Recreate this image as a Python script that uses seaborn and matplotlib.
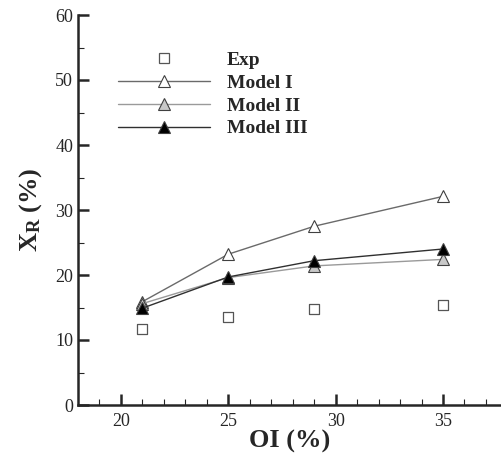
import matplotlib
matplotlib.use("Agg")
import matplotlib.pyplot as plt
from matplotlib.lines import Line2D
import seaborn as sns
import pandas as pd

# data
oi = [21, 25, 29, 35]
exp_xr = [11.7, 13.6, 14.8, 15.4]
model1_xr = [15.9, 23.2, 27.5, 32.1]
model2_xr = [15.6, 19.6, 21.4, 22.4]
model3_xr = [14.9, 19.7, 22.2, 24.0]

sns.set_style("ticks")
plt.rcParams["font.family"] = ["Liberation Serif", "DejaVu Serif"]
plt.rcParams["mathtext.fontset"] = "custom"
plt.rcParams["mathtext.rm"] = "Liberation Serif"
plt.rcParams["mathtext.bf"] = "Liberation Serif:bold"

fig = plt.figure(figsize=(5.01, 4.54), dpi=100)
ax = fig.add_axes([78 / 501, 1 - 405 / 454, 1 - 78 / 501, (405 - 15) / 454])

models = [
    ("Model I", model1_xr, "white", "#6a6a6a"),
    ("Model II", model2_xr, "#c8c8c8", "#9a9a9a"),
    ("Model III", model3_xr, "black", "#303030"),
]

handles = [Line2D([], [], ls="none", marker="s", ms=7, mfc="white",
                  mec="#555555", mew=0.9)]
for name, vals, fc, lc in models:
    df = pd.DataFrame({"OI": oi, "XR": vals})
    sns.lineplot(data=df, x="OI", y="XR", ax=ax, color=lc, lw=1.0,
                 marker="^", markersize=8.5, markerfacecolor=fc,
                 markeredgecolor="#404040", markeredgewidth=0.8)
    handles.append(Line2D([], [], color=lc, lw=1.0, marker="^", ms=8.5,
                          mfc=fc, mec="#404040", mew=0.8))

sns.scatterplot(x=oi, y=exp_xr, ax=ax, marker="s", s=49,
                facecolor="white", edgecolor="#555555", linewidth=0.9,
                zorder=3)

ax.legend(handles, ["Exp", "Model I", "Model II", "Model III"],
          loc="upper left", bbox_to_anchor=(0.053, 0.952), frameon=False,
          handlelength=4.75, handletextpad=0.85, labelspacing=0.27,
          prop={"weight": "bold", "size": 14})

ax.set_xlim(18, 37.7)
ax.set_ylim(0, 60)
ax.set_xticks([20, 25, 30, 35])
ax.set_xticks(range(19, 38), minor=True)
ax.set_yticks(range(0, 61, 10))
ax.set_yticks(range(5, 60, 10), minor=True)
ax.tick_params(which="both", direction="in", labelsize=13, width=1.2)
ax.tick_params(which="major", length=8, width=1.8)
ax.tick_params(which="minor", length=4, width=0.8)
ax.tick_params(axis="x", pad=6)

for s in ["top", "right"]:
    ax.spines[s].set_visible(False)
for s in ["left", "bottom"]:
    ax.spines[s].set_linewidth(1.8)

ax.set_xlabel("OI (%)", fontsize=19, fontweight="bold", labelpad=0)
ax.set_ylabel(r"$\mathbf{X_R}$ (%)", fontsize=19, fontweight="bold",
              labelpad=8)

fig.savefig("out.png", dpi=100)
